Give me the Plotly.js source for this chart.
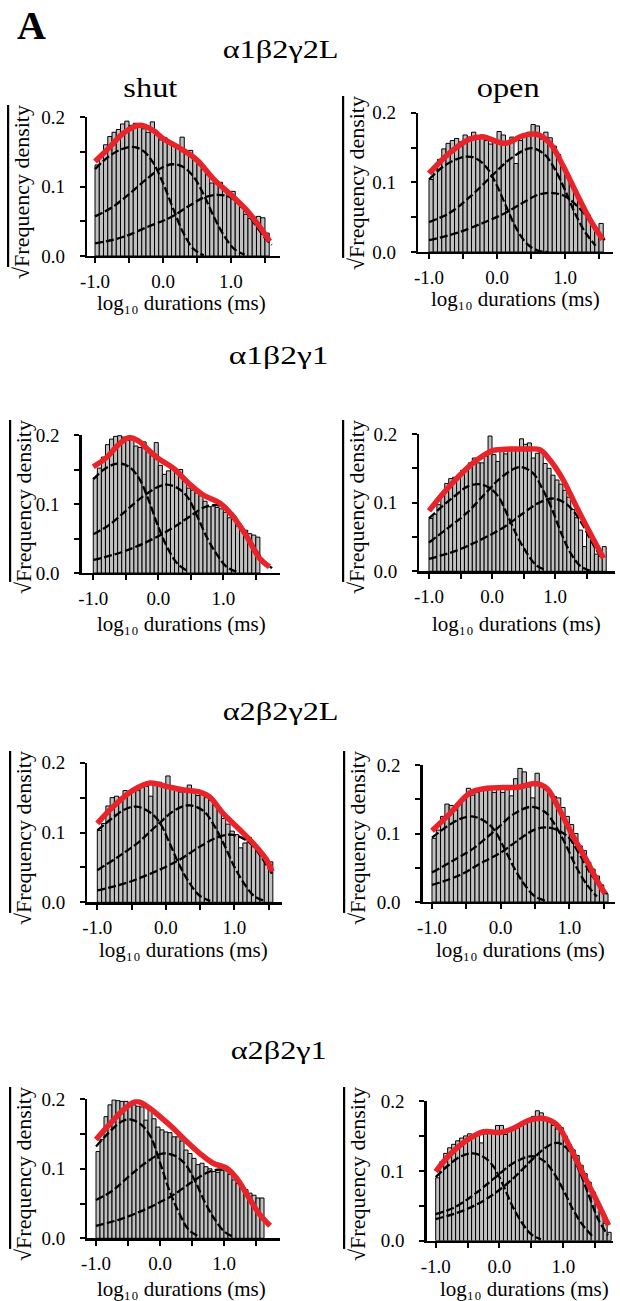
<!DOCTYPE html>
<html><head><meta charset="utf-8">
<script src="https://cdn.plot.ly/plotly-3.0.1.min.js"></script>
<style>html,body{margin:0;padding:0;background:#fff}#chart{width:620px;height:1301px}</style>
</head><body><div id="chart"></div>
<script>
// ---------------- text ----------------
const rowTitles = ['α1β2γ2L', 'α1β2γ1', 'α2β2γ2L', 'α2β2γ1'];
const colTitles = ['shut', 'open'];
const panelLetter = 'A';
const yLabel = '√<span style="text-decoration:overline">Frequency density</span>';
const xLabel = 'log₁₀ durations (ms)';
const xTickVals = [-1, 0, 1];
const xTickText = ['-1.0', '0.0', '1.0'];
const xMinorVals = [-0.5, 0.5, 1.5];
const yTickVals = [0, 0.1, 0.2];
const yTickText = ['0.0', '0.1', '0.2'];
const yMinorVals = [0.05, 0.15];

// ---------------- histogram bins ----------------
const firstBinCenter = -0.96875;
const binWidth = 0.0625;

// ---------------- panel 1: α1β2γ2L shut ----------------
const p1Bars = [0.131,0.146,0.160,0.172,0.178,0.182,0.190,0.194,0.188,0.191,0.185,0.183,0.178,0.193,0.175,0.167,0.170,0.164,0.160,0.158,0.171,0.150,0.152,0.140,0.132,0.125,0.117,0.105,0.106,0.106,0.094,0.086,0.093,0.080,0.070,0.060,0.054,0.056,0.057,0.055,0.033];
const p1FitX = [-1, -0.78, -0.58, -0.34, -0.15, 0, 0.25, 0.5, 0.74, 1.0, 1.23, 1.4, 1.57];
const p1FitY = [0.136, 0.157, 0.177, 0.188, 0.181, 0.169, 0.155, 0.138, 0.111, 0.088, 0.066, 0.045, 0.021];
const p1FastX = [-1, -0.8, -0.6, -0.45, -0.3, -0.15, 0, 0.15, 0.3, 0.45, 0.6];
const p1FastY = [0.125, 0.143, 0.154, 0.157, 0.152, 0.135, 0.105, 0.068, 0.033, 0.010, 0.001];
const p1MidX = [-1, -0.75, -0.5, -0.25, 0, 0.15, 0.3, 0.45, 0.6, 0.75, 0.9, 1.05, 1.2];
const p1MidY = [0.057, 0.070, 0.089, 0.110, 0.128, 0.132, 0.128, 0.114, 0.088, 0.056, 0.029, 0.010, 0.002];
const p1SlowX = [-1, -0.6, -0.2, 0.1, 0.35, 0.6, 0.8, 1.0, 1.2, 1.35, 1.5, 1.6];
const p1SlowY = [0.018, 0.027, 0.043, 0.055, 0.070, 0.084, 0.088, 0.084, 0.066, 0.046, 0.026, 0.016];

// ---------------- panel 2: α1β2γ2L open ----------------
const p2Bars = [0.104,0.118,0.133,0.148,0.156,0.160,0.163,0.158,0.168,0.165,0.172,0.165,0.168,0.160,0.155,0.158,0.173,0.168,0.157,0.165,0.127,0.160,0.168,0.172,0.183,0.181,0.162,0.172,0.164,0.152,0.140,0.125,0.112,0.100,0.087,0.074,0.062,0.053,0.040,0.030,0.041];
const p2FitX = [-1, -0.7, -0.4, -0.2, 0.115, 0.386, 0.58, 0.78, 0.975, 1.17, 1.37, 1.555];
const p2FitY = [0.113, 0.142, 0.162, 0.165, 0.156, 0.167, 0.169, 0.156, 0.123, 0.084, 0.046, 0.018];
const p2FastX = [-1, -0.8, -0.6, -0.45, -0.3, -0.15, 0, 0.15, 0.3, 0.45, 0.6, 0.75];
const p2FastY = [0.104, 0.122, 0.133, 0.137, 0.134, 0.121, 0.095, 0.062, 0.031, 0.011, 0.002, 0.0];
const p2MidX = [-1, -0.7, -0.4, -0.1, 0.2, 0.5, 0.7, 0.85, 1.0, 1.15, 1.3, 1.45];
const p2MidY = [0.043, 0.056, 0.079, 0.107, 0.134, 0.149, 0.140, 0.119, 0.089, 0.055, 0.028, 0.009];
const p2SlowX = [-1, -0.6, -0.2, 0.1, 0.35, 0.6, 0.8, 1.0, 1.2, 1.35, 1.5, 1.6];
const p2SlowY = [0.017, 0.027, 0.042, 0.055, 0.069, 0.082, 0.085, 0.080, 0.064, 0.047, 0.026, 0.016];

// ---------------- panel 3: α1β2γ1 shut ----------------
const p3Bars = [0.138,0.152,0.168,0.186,0.194,0.198,0.199,0.197,0.192,0.195,0.184,0.182,0.190,0.176,0.170,0.189,0.156,0.143,0.148,0.152,0.146,0.150,0.133,0.123,0.120,0.116,0.112,0.104,0.096,0.097,0.095,0.093,0.088,0.080,0.078,0.068,0.066,0.062,0.057,0.055,0.052];
const p3FitX = [-1, -0.8, -0.6, -0.45, -0.3, -0.15, 0, 0.23, 0.49, 0.69, 0.95, 1.15, 1.36, 1.56, 1.71];
const p3FitY = [0.154, 0.167, 0.187, 0.196, 0.191, 0.178, 0.166, 0.152, 0.128, 0.113, 0.101, 0.082, 0.053, 0.021, 0.009];
const p3FastX = [-1, -0.85, -0.7, -0.6, -0.45, -0.3, -0.15, 0, 0.15, 0.3, 0.45];
const p3FastY = [0.136, 0.149, 0.157, 0.159, 0.154, 0.138, 0.106, 0.067, 0.035, 0.013, 0.003];
const p3MidX = [-1, -0.75, -0.5, -0.25, 0, 0.13, 0.3, 0.45, 0.6, 0.75, 0.9, 1.05, 1.2];
const p3MidY = [0.056, 0.070, 0.090, 0.110, 0.125, 0.128, 0.123, 0.110, 0.082, 0.051, 0.027, 0.009, 0.002];
const p3SlowX = [-1, -0.6, -0.2, 0.2, 0.5, 0.7, 0.9, 1.1, 1.3, 1.45, 1.6, 1.75];
const p3SlowY = [0.019, 0.029, 0.044, 0.064, 0.083, 0.095, 0.0985, 0.090, 0.065, 0.042, 0.020, 0.007];

// ---------------- panel 4: α1β2γ1 open ----------------
const p4Bars = [0.077,0.083,0.097,0.112,0.128,0.135,0.137,0.140,0.147,0.150,0.158,0.165,0.158,0.158,0.168,0.197,0.170,0.160,0.178,0.171,0.176,0.180,0.178,0.193,0.185,0.187,0.165,0.172,0.177,0.157,0.150,0.140,0.133,0.127,0.118,0.108,0.090,0.078,0.060,0.036,0.056,0.043,0.025,0.022,0.036];
const p4FitX = [-1, -0.77, -0.51, -0.24, 0.02, 0.29, 0.55, 0.76, 0.92, 1.13, 1.34, 1.56, 1.77];
const p4FitY = [0.088, 0.114, 0.140, 0.162, 0.176, 0.178, 0.178, 0.177, 0.162, 0.133, 0.094, 0.055, 0.019];
const p4FastX = [-1, -0.8, -0.6, -0.4, -0.22, -0.05, 0.1, 0.25, 0.4, 0.55, 0.7, 0.85];
const p4FastY = [0.077, 0.094, 0.109, 0.123, 0.127, 0.122, 0.109, 0.081, 0.051, 0.027, 0.009, 0.002];
const p4MidX = [-1, -0.7, -0.4, -0.1, 0.15, 0.44, 0.65, 0.8, 0.95, 1.1, 1.25, 1.4, 1.55];
const p4MidY = [0.042, 0.063, 0.085, 0.114, 0.137, 0.152, 0.143, 0.120, 0.091, 0.055, 0.026, 0.008, 0.001];
const p4SlowX = [-1, -0.6, -0.2, 0.2, 0.5, 0.75, 0.97, 1.15, 1.3, 1.45, 1.6, 1.75];
const p4SlowY = [0.018, 0.029, 0.045, 0.065, 0.085, 0.100, 0.106, 0.100, 0.087, 0.066, 0.040, 0.018];

// ---------------- panel 5: α2β2γ2L shut ----------------
const p5Bars = [0.103,0.113,0.138,0.150,0.152,0.150,0.160,0.158,0.163,0.160,0.168,0.166,0.152,0.170,0.172,0.168,0.181,0.166,0.160,0.158,0.160,0.168,0.157,0.153,0.158,0.150,0.146,0.139,0.135,0.120,0.112,0.102,0.097,0.078,0.085,0.093,0.080,0.078,0.068,0.063,0.058];
const p5FitX = [-1, -0.77, -0.47, -0.23, 0.01, 0.26, 0.5, 0.64, 0.84, 1.08, 1.28, 1.47, 1.55];
const p5FitY = [0.113, 0.137, 0.161, 0.171, 0.166, 0.161, 0.158, 0.151, 0.127, 0.104, 0.084, 0.061, 0.044];
const p5FastX = [-1, -0.8, -0.6, -0.43, -0.25, -0.1, 0.05, 0.2, 0.35, 0.5, 0.65];
const p5FastY = [0.103, 0.119, 0.133, 0.137, 0.130, 0.116, 0.086, 0.053, 0.027, 0.009, 0.002];
const p5MidX = [-1, -0.7, -0.4, -0.1, 0.15, 0.35, 0.55, 0.7, 0.85, 1.0, 1.15, 1.3, 1.45];
const p5MidY = [0.046, 0.065, 0.086, 0.113, 0.133, 0.139, 0.131, 0.111, 0.083, 0.051, 0.026, 0.008, 0.002];
const p5SlowX = [-1, -0.6, -0.2, 0.2, 0.5, 0.75, 0.94, 1.1, 1.25, 1.4, 1.55];
const p5SlowY = [0.017, 0.027, 0.042, 0.061, 0.080, 0.093, 0.097, 0.093, 0.083, 0.064, 0.041];

// ---------------- panel 6: α2β2γ2L open ----------------
const p6Bars = [0.093,0.105,0.125,0.143,0.141,0.134,0.146,0.152,0.166,0.156,0.160,0.163,0.167,0.168,0.160,0.165,0.160,0.164,0.155,0.180,0.195,0.190,0.168,0.152,0.188,0.168,0.164,0.160,0.154,0.152,0.138,0.125,0.113,0.100,0.082,0.075,0.058,0.048,0.038,0.025,0.012];
const p6FitX = [-1, -0.74, -0.45, -0.2, 0.04, 0.28, 0.5, 0.67, 0.86, 1.06, 1.25, 1.4, 1.52];
const p6FitY = [0.104, 0.129, 0.159, 0.166, 0.167, 0.168, 0.173, 0.166, 0.134, 0.095, 0.061, 0.032, 0.012];
const p6FastX = [-1, -0.8, -0.6, -0.42, -0.25, -0.1, 0.05, 0.2, 0.35, 0.5, 0.65];
const p6FastY = [0.094, 0.109, 0.121, 0.125, 0.119, 0.106, 0.079, 0.049, 0.025, 0.008, 0.002];
const p6MidX = [-1, -0.7, -0.4, -0.1, 0.2, 0.45, 0.65, 0.8, 0.95, 1.1, 1.25, 1.4];
const p6MidY = [0.043, 0.060, 0.078, 0.103, 0.129, 0.139, 0.131, 0.111, 0.083, 0.051, 0.026, 0.008];
const p6SlowX = [-1, -0.6, -0.3, 0, 0.25, 0.5, 0.67, 0.85, 1.0, 1.15, 1.3, 1.45, 1.55];
const p6SlowY = [0.025, 0.039, 0.056, 0.072, 0.090, 0.106, 0.109, 0.104, 0.093, 0.069, 0.043, 0.023, 0.012];

// ---------------- panel 7: α2β2γ1 shut ----------------
const p7Bars = [0.125,0.142,0.175,0.192,0.199,0.198,0.197,0.197,0.195,0.192,0.190,0.189,0.170,0.186,0.172,0.160,0.156,0.153,0.152,0.146,0.146,0.140,0.127,0.122,0.115,0.106,0.108,0.103,0.100,0.096,0.095,0.098,0.101,0.092,0.084,0.079,0.075,0.070,0.065,0.062,0.058,0.058];
const p7FitX = [-1, -0.78, -0.52, -0.36, -0.16, 0, 0.21, 0.42, 0.625, 0.83, 1.04, 1.2, 1.41, 1.56, 1.72];
const p7FitY = [0.142, 0.165, 0.189, 0.197, 0.187, 0.175, 0.158, 0.139, 0.122, 0.108, 0.101, 0.086, 0.055, 0.034, 0.018];
const p7FastX = [-1, -0.8, -0.6, -0.47, -0.3, -0.15, 0, 0.15, 0.3, 0.45, 0.6];
const p7FastY = [0.132, 0.152, 0.168, 0.171, 0.164, 0.147, 0.109, 0.068, 0.036, 0.012, 0.003];
const p7MidX = [-1, -0.75, -0.5, -0.25, 0, 0.1, 0.25, 0.4, 0.55, 0.7, 0.85, 1.0, 1.15];
const p7MidY = [0.055, 0.068, 0.088, 0.107, 0.121, 0.122, 0.118, 0.106, 0.082, 0.052, 0.028, 0.010, 0.002];
const p7SlowX = [-1, -0.6, -0.2, 0.2, 0.5, 0.75, 0.94, 1.1, 1.25, 1.4, 1.55, 1.7];
const p7SlowY = [0.018, 0.028, 0.043, 0.062, 0.081, 0.095, 0.099, 0.095, 0.080, 0.056, 0.034, 0.018];

// ---------------- panel 8: α2β2γ1 open ----------------
const p8Bars = [0.090,0.113,0.125,0.133,0.138,0.143,0.147,0.150,0.153,0.150,0.155,0.140,0.153,0.158,0.157,0.165,0.165,0.152,0.157,0.160,0.163,0.165,0.168,0.172,0.178,0.186,0.183,0.176,0.170,0.165,0.160,0.162,0.150,0.138,0.130,0.122,0.108,0.096,0.084,0.070,0.055,0.042,0.025,0.012];
const p8FitX = [-1, -0.78, -0.51, -0.25, 0.01, 0.22, 0.48, 0.69, 0.9, 1.1, 1.31, 1.52, 1.71];
const p8FitY = [0.099, 0.123, 0.144, 0.156, 0.155, 0.161, 0.173, 0.175, 0.166, 0.135, 0.096, 0.058, 0.022];
const p8FastX = [-1, -0.8, -0.6, -0.41, -0.25, -0.1, 0.05, 0.2, 0.35, 0.5, 0.65];
const p8FastY = [0.091, 0.108, 0.121, 0.125, 0.120, 0.107, 0.081, 0.050, 0.026, 0.009, 0.002];
const p8MidX = [-1, -0.7, -0.4, -0.1, 0.2, 0.5, 0.7, 0.85, 1.0, 1.15, 1.3, 1.45];
const p8MidY = [0.038, 0.048, 0.066, 0.088, 0.110, 0.121, 0.114, 0.097, 0.073, 0.045, 0.023, 0.007];
const p8SlowX = [-1, -0.6, -0.2, 0.2, 0.5, 0.75, 0.92, 1.1, 1.25, 1.4, 1.55, 1.7];
const p8SlowY = [0.031, 0.042, 0.060, 0.088, 0.115, 0.135, 0.140, 0.128, 0.100, 0.065, 0.030, 0.008];

// ---------------- assembly ----------------
const panels = [
  {bars: p1Bars, fit: [p1FitX, p1FitY], comps: [[p1FastX, p1FastY], [p1MidX, p1MidY], [p1SlowX, p1SlowY]]},
  {bars: p2Bars, fit: [p2FitX, p2FitY], comps: [[p2FastX, p2FastY], [p2MidX, p2MidY], [p2SlowX, p2SlowY]]},
  {bars: p3Bars, fit: [p3FitX, p3FitY], comps: [[p3FastX, p3FastY], [p3MidX, p3MidY], [p3SlowX, p3SlowY]]},
  {bars: p4Bars, fit: [p4FitX, p4FitY], comps: [[p4FastX, p4FastY], [p4MidX, p4MidY], [p4SlowX, p4SlowY]]},
  {bars: p5Bars, fit: [p5FitX, p5FitY], comps: [[p5FastX, p5FastY], [p5MidX, p5MidY], [p5SlowX, p5SlowY]]},
  {bars: p6Bars, fit: [p6FitX, p6FitY], comps: [[p6FastX, p6FastY], [p6MidX, p6MidY], [p6SlowX, p6SlowY]]},
  {bars: p7Bars, fit: [p7FitX, p7FitY], comps: [[p7FastX, p7FastY], [p7MidX, p7MidY], [p7SlowX, p7SlowY]]},
  {bars: p8Bars, fit: [p8FitX, p8FitY], comps: [[p8FastX, p8FastY], [p8MidX, p8MidY], [p8SlowX, p8SlowY]]}
];

// layout boxes in pixels: left, right, top (y=0.2), bottom (y=0), x-range
const W = 620, H = 1301;
const boxes = [
  [87, 280, 117, 256, -1.118, 1.721],
  [418, 613, 112.7, 252, -1.162, 1.706],
  [81.7, 280, 435, 573, -1.178, 1.872],
  [419.3, 615, 434, 571.3, -1.154, 1.952],
  [87.3, 281.7, 762.7, 902.3, -1.146, 1.692],
  [422.7, 615, 765, 902, -1.135, 1.664],
  [87.3, 280, 1099.3, 1238.3, -1.136, 1.875],
  [426.7, 613.3, 1101, 1240.7, -1.141, 1.784]
];
// label positions (pixels)
const yLabPos = [[21, 192], [356, 183], [23, 507], [356, 507], [23, 838], [357, 838], [23, 1174], [357, 1174]];
const xLabPos = [[181, 303], [515, 299], [181, 624], [516, 624], [183, 950], [520, 950], [181, 1289], [524, 1289]];
const rowTitlePos = [[280, 50], [278, 355], [280, 711], [278, 1050]];
const rowTitleWidth = [116, 100, 116, 96];
const colTitlePos = [[150, 88], [508, 88]];
const colTitleWidth = [54, 63];

const FONT = 'Liberation Serif, Times New Roman, serif';
const data = [];
const layout = {
  width: W, height: H, margin: {l: 0, r: 0, t: 0, b: 0},
  paper_bgcolor: '#fff', plot_bgcolor: 'rgba(0,0,0,0)',
  showlegend: false, bargap: 0, annotations: [],
  font: {family: FONT, color: '#000'}
};
const axisStyle = {
  showline: true, linewidth: 2.3, linecolor: '#000', ticks: 'outside', ticklen: 5, tickwidth: 2, tickcolor: '#000',
  showgrid: false, zeroline: false, tickmode: 'array', fixedrange: true,
  tickfont: {family: FONT, size: 19, color: '#000'}
};

panels.forEach((p, i) => {
  const k = i === 0 ? '' : String(i + 1);
  const b = boxes[i];
  data.push({type: 'bar', x0: firstBinCenter, dx: binWidth, y: p.bars,
    marker: {color: '#c0c0c0', line: {color: '#000', width: 1}},
    xaxis: 'x' + k, yaxis: 'y' + k, hoverinfo: 'skip'});
  p.comps.forEach(c => data.push({type: 'scatter', mode: 'lines', x: c[0], y: c[1],
    line: {color: '#000', width: 2.3, dash: '8px,3px', shape: 'spline', smoothing: 1},
    xaxis: 'x' + k, yaxis: 'y' + k, hoverinfo: 'skip'}));
  data.push({type: 'scatter', mode: 'lines', x: p.fit[0], y: p.fit[1],
    line: {color: '#e8232a', width: 5.5, shape: 'spline', smoothing: 1},
    xaxis: 'x' + k, yaxis: 'y' + k, hoverinfo: 'skip'});
  layout['xaxis' + k] = Object.assign({}, axisStyle, {
    domain: [b[0] / W, b[1] / W], range: [b[4], b[5]], anchor: 'y' + k,
    tickvals: xTickVals, ticktext: xTickText, ticklabelstandoff: 2,
    minor: {tickmode: 'array', tickvals: xMinorVals, ticks: 'outside', ticklen: 5, tickwidth: 2, tickcolor: '#000', showgrid: false}
  });
  layout['yaxis' + k] = Object.assign({}, axisStyle, {
    domain: [1 - b[3] / H, 1 - b[2] / H], range: [0, 0.2], anchor: 'x' + k,
    tickvals: yTickVals, ticktext: yTickText, ticklabelstandoff: 11,
    minor: {tickmode: 'array', tickvals: yMinorVals, ticks: 'outside', ticklen: 5, tickwidth: 2, tickcolor: '#000', showgrid: false}
  });
  layout.annotations.push({xref: 'paper', yref: 'paper', x: yLabPos[i][0] / W, y: 1 - yLabPos[i][1] / H,
    xanchor: 'center', yanchor: 'middle', showarrow: false, textangle: -90, text: yLabel,
    font: {family: FONT, size: 22, color: '#000'}});
  layout.annotations.push({xref: 'paper', yref: 'paper', x: xLabPos[i][0] / W, y: 1 - xLabPos[i][1] / H,
    xanchor: 'center', yanchor: 'middle', showarrow: false, text: xLabel,
    font: {family: FONT, size: 21, color: '#000'}});
});

rowTitles.forEach((t, r) => layout.annotations.push({xref: 'paper', yref: 'paper',
  x: rowTitlePos[r][0] / W, y: 1 - rowTitlePos[r][1] / H, xanchor: 'center', yanchor: 'middle',
  showarrow: false, text: t, font: {family: FONT, size: 26, color: '#000'}}));
colTitles.forEach((t, c) => layout.annotations.push({xref: 'paper', yref: 'paper',
  x: colTitlePos[c][0] / W, y: 1 - colTitlePos[c][1] / H, xanchor: 'center', yanchor: 'middle',
  showarrow: false, text: t, font: {family: FONT, size: 28, color: '#000'}}));
layout.annotations.push({xref: 'paper', yref: 'paper', x: 31 / W, y: 1 - 25 / H,
  xanchor: 'center', yanchor: 'middle', showarrow: false, text: '<b>' + panelLetter + '</b>',
  font: {family: FONT, size: 40, color: '#000'}});

Plotly.newPlot('chart', data, layout, {staticPlot: true, displayModeBar: false}).then(gd => {
  // widen the title glyphs to the reference's wider type
  const widths = {};
  rowTitles.forEach((t, r) => { widths[t] = rowTitleWidth[r]; });
  colTitles.forEach((t, c) => { widths[t] = colTitleWidth[c]; });
  gd.querySelectorAll('.annotation-text').forEach(el => {
    const w = widths[el.textContent];
    if (w) { el.setAttribute('textLength', w); el.setAttribute('lengthAdjust', 'spacingAndGlyphs'); }
  });
});
</script>
</body></html>
